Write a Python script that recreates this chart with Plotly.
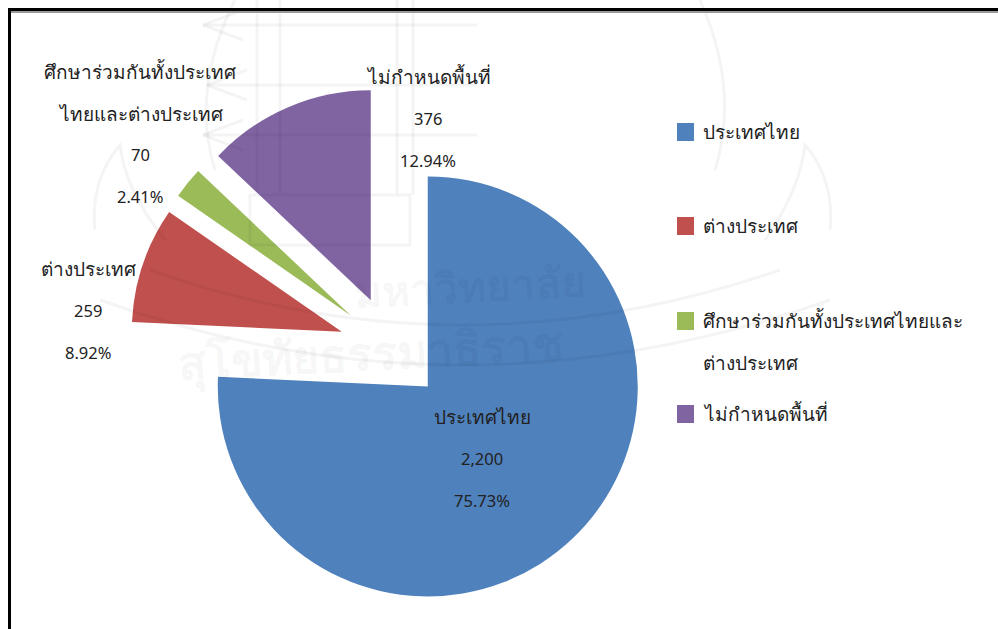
import plotly.graph_objects as go

categories = ["ประเทศไทย", "ต่างประเทศ", "ศึกษาร่วมกันทั้งประเทศไทยและต่างประเทศ", "ไม่กำหนดพื้นที่"]
counts = [2200, 259, 70, 376]
count_labels = ["2,200", "259", "70", "376"]
percents = ["75.73%", "8.92%", "2.41%", "12.94%"]
legend_lines = [["ประเทศไทย"], ["ต่างประเทศ"], ["ศึกษาร่วมกันทั้งประเทศไทยและ", "ต่างประเทศ"], ["ไม่กำหนดพื้นที่"]]
colors = ["#4f81bd", "#c0504d", "#9bbb59", "#8064a2"]
label_lines = [["ประเทศไทย"], ["ต่างประเทศ"], ["ศึกษาร่วมกันทั้งประเทศ", "ไทยและต่างประเทศ"], ["ไม่กำหนดพื้นที่"]]
label_x = [482, 88, 140, 428]
label_first_y = [417, 269, 72, 77]
legend_y = [132, 226, 321, 414]
watermark_texts = [("มหาวิทยาลัย", 470, 285, 42), ("สุโขทัยธรรมาธิราช", 370, 352, 46)]
watermark_paths = [
    "M 203 25 L 477 25 M 207 85 L 477 85 M 203 135 L 477 135",
    "M 203 25 L 243 10 M 203 25 L 243 40 M 207 85 L 247 70 M 207 85 L 247 100 M 203 135 L 243 120 M 203 135 L 243 150",
    "M 257 0 L 257 195 M 280 0 L 280 195 M 397 0 L 397 195 M 413 0 L 413 195 M 250 195 L 410 195 L 410 245 L 250 245 Z",
    "M 235 0 Q 190 90 215 170 M 700 0 Q 740 90 715 170",
    "M 100 300 Q 460 430 830 300 M 150 270 Q 460 380 780 270",
    "M 95 230 Q 90 180 120 145 Q 125 190 165 240 M 830 230 Q 835 180 805 145 Q 800 190 765 240",
]

W, H = 998, 629
LINE = 41.5
THAI = 19
DIGIT = 16.5
FONT = "Noto Sans, sans-serif"
TEXT = "#222222"
FAINT = "rgba(0,0,0,0.045)"

def px(x):
    return x / W

def py(y):
    return 1 - y / H

fig = go.Figure(go.Pie(
    labels=categories, values=counts, sort=False, direction="clockwise", rotation=0,
    pull=[0.25, 0.25, 0.25, 0.25], marker=dict(colors=colors, line=dict(width=0)),
    textinfo="none", hoverinfo="label+value+percent", showlegend=False,
    domain=dict(x=[px(129), px(654)], y=[py(611), py(86)]),
))

def text(x, y, s, size, anchor="center"):
    fig.add_annotation(x=px(x), y=py(y), xref="paper", yref="paper", text=s, showarrow=False,
                       xanchor=anchor, yanchor="middle", font=dict(size=size, color=TEXT))

for s, x, y, size in watermark_texts:
    fig.add_annotation(x=px(x), y=py(y), xref="paper", yref="paper", text="<b>" + s + "</b>", showarrow=False,
                       textangle=-3, font=dict(size=size, color="rgba(0,0,0,0.05)"))
for path in watermark_paths:
    fig.add_shape(type="path", path=path, xref="x", yref="y", layer="above",
                  line=dict(color=FAINT, width=3), fillcolor="rgba(0,0,0,0)")

for lines, c, p, x, y0 in zip(label_lines, count_labels, percents, label_x, label_first_y):
    y = y0
    for ln in lines:
        text(x, y, ln, THAI)
        y += LINE
    text(x, y, c, DIGIT)
    text(x, y + LINE, p, DIGIT)

for lines, col, y in zip(legend_lines, colors, legend_y):
    fig.add_shape(type="rect", xref="paper", yref="paper", x0=px(677), x1=px(694), y0=py(y + 9), y1=py(y - 9),
                  fillcolor=col, line=dict(width=0))
    for i, ln in enumerate(lines):
        text(701, y + i * LINE, ln, THAI, "left")

fig.add_shape(type="line", xref="paper", yref="paper", x0=px(8), x1=1, y0=py(12), y1=py(12), line=dict(color="#999999", width=2))
fig.add_shape(type="line", xref="paper", yref="paper", x0=px(8), x1=1, y0=py(9.5), y1=py(9.5), line=dict(color="black", width=3))
fig.add_shape(type="line", xref="paper", yref="paper", x0=px(9.5), x1=px(9.5), y0=0, y1=py(8), line=dict(color="black", width=3))
fig.update_layout(
    width=W, height=H, margin=dict(l=0, r=0, t=0, b=0), paper_bgcolor="white", plot_bgcolor="rgba(0,0,0,0)",
    font=dict(family=FONT, size=15, color=TEXT),
    xaxis=dict(range=[0, W], visible=False, fixedrange=True),
    yaxis=dict(range=[H, 0], visible=False, fixedrange=True),
)
fig.write_html("out.html", post_script="document.body.style.margin='0';", config=dict(displayModeBar=False))
